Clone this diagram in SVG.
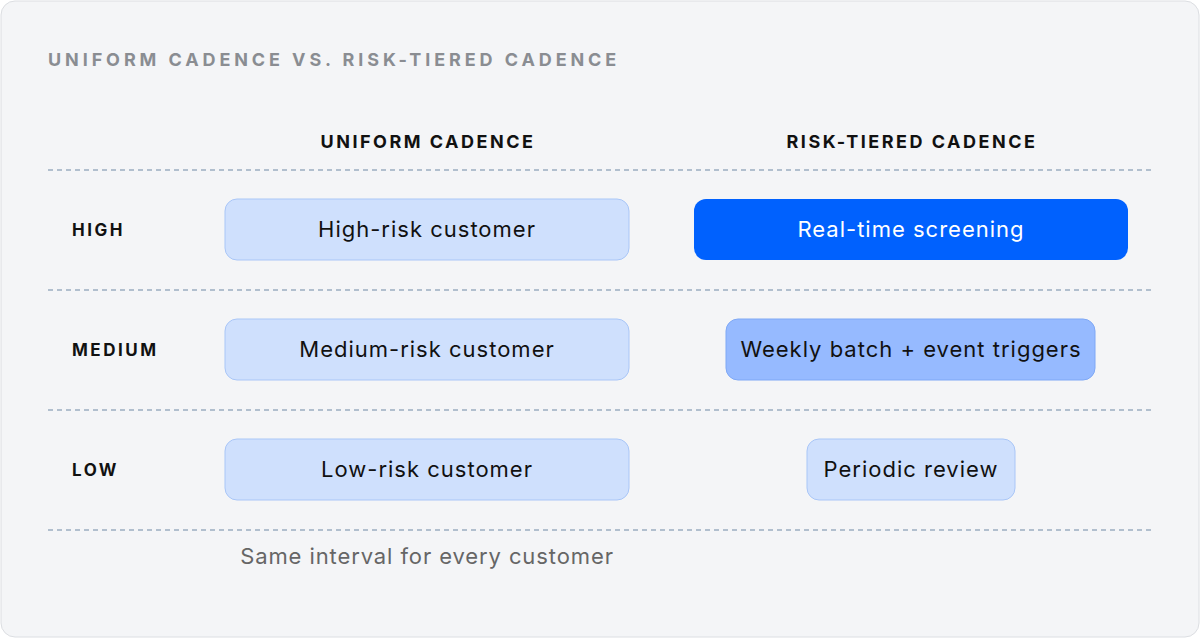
<svg xmlns="http://www.w3.org/2000/svg" width="1200" height="638" viewBox="0 0 1200 638">
<style>
text{font-family:Inter,"Liberation Sans",sans-serif}
.hdr{font-size:18px;font-weight:700;letter-spacing:2.5px;fill:#111;text-anchor:middle}
.row{font-size:17px;font-weight:700;letter-spacing:2.5px;fill:#111}
.sep{stroke:#6f8aa6;stroke-width:1.2;stroke-dasharray:5 4}
.lt{fill:#cfe0fd;stroke:#a9c6f7;stroke-width:1}
.lbl{font-size:22px;letter-spacing:1px;fill:#111;text-anchor:middle}
</style>
<rect x="1" y="1" width="1198" height="636" rx="14" fill="#f4f5f7" stroke="#dcdee2"/>
<text x="48" y="66" font-size="18" font-weight="700" letter-spacing="3.9" fill="#8a8d92">UNIFORM CADENCE VS. RISK-TIERED CADENCE</text>
<text class="hdr" x="428" y="148">UNIFORM CADENCE</text>
<text class="hdr" x="912" y="148">RISK-TIERED CADENCE</text>
<g id="connectors">
<line class="sep" x1="48" y1="170" x2="1152" y2="170"/>
<line class="sep" x1="48" y1="290" x2="1152" y2="290"/>
<line class="sep" x1="48" y1="410" x2="1152" y2="410"/>
<line class="sep" x1="48" y1="530" x2="1152" y2="530"/>
</g>
<text class="row" x="72" y="236">HIGH</text>
<text class="row" x="72" y="356">MEDIUM</text>
<text class="row" x="72" y="476">LOW</text>
<g id="u-high"><rect class="lt" x="225" y="199" width="404" height="61" rx="12"/><text class="lbl" x="427" y="237">High-risk customer</text></g>
<g id="u-med"><rect class="lt" x="225" y="319" width="404" height="61" rx="12"/><text class="lbl" x="427" y="357">Medium-risk customer</text></g>
<g id="u-low"><rect class="lt" x="225" y="439" width="404" height="61" rx="12"/><text class="lbl" x="427" y="477">Low-risk customer</text></g>
<g id="r-high"><rect x="694" y="199" width="434" height="61" rx="12" fill="#0061fe"/><text class="lbl" x="911" y="237" style="fill:#fff">Real-time screening</text></g>
<g id="r-med"><rect x="726" y="319" width="369" height="61" rx="12" fill="#96baff" stroke="#7fa8f5"/><text class="lbl" x="911" y="357">Weekly batch + event triggers</text></g>
<g id="r-low"><rect class="lt" x="807" y="439" width="208" height="61" rx="12"/><text class="lbl" x="911" y="477">Periodic review</text></g>
<text x="427" y="564" font-size="22" letter-spacing="0.9" fill="#666" text-anchor="middle">Same interval for every customer</text>
</svg>
